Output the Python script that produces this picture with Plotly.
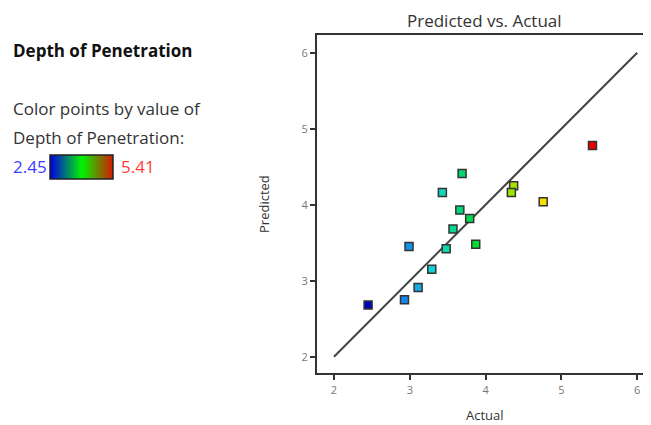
import plotly.graph_objects as go

# ---- data ----
actual = [2.45, 2.93, 3.11, 3.29, 2.99, 3.48, 3.87, 3.57, 3.79, 3.66, 3.43, 3.69, 4.37, 4.34, 4.76, 5.41]
predicted = [2.68, 2.75, 2.91, 3.15, 3.45, 3.42, 3.48, 3.68, 3.82, 3.93, 4.16, 4.41, 4.25, 4.16, 4.04, 4.78]
diag_x = [2, 6]
diag_y = [2, 6]
x_ticks = [2, 3, 4, 5, 6]
y_ticks = [2, 3, 4, 5, 6]
color_min = 2.45
color_max = 5.41

# page has an 8px body margin; figure is placed at (8, 8)
OFF = 8
W, H = 651 - OFF, 425 - OFF
def px(x):
    return (x - OFF) / W
def py(y):
    return 1 - (y - OFF) / H

FONT = "Open Sans"

point_scale = [[0.0, "rgb(0,0,190)"], [0.17, "rgb(20,140,240)"], [0.3, "rgb(20,215,215)"],
               [0.42, "rgb(0,215,110)"], [0.5, "rgb(0,225,30)"], [0.65, "rgb(170,230,0)"],
               [0.78, "rgb(245,225,0)"], [1.0, "rgb(235,0,0)"]]
bar_scale = [[0.0, "rgb(0,0,230)"], [0.5, "rgb(0,245,0)"], [1.0, "rgb(220,20,0)"]]

fig = go.Figure()

fig.add_trace(go.Scatter(x=diag_x, y=diag_y, mode="lines",
                         line=dict(color="#444", width=2), hoverinfo="skip", showlegend=False))
fig.add_trace(go.Scatter(x=actual, y=predicted, mode="markers",
                         marker=dict(symbol="square", size=8, color=actual, colorscale=point_scale,
                                     cmin=color_min, cmax=color_max,
                                     line=dict(color="#333", width=1.5)),
                         showlegend=False))

# legend gradient bar
fig.add_trace(go.Heatmap(z=[[color_min, color_max], [color_min, color_max]], x=[0, 1], y=[0, 1],
                         colorscale=bar_scale, zmin=color_min, zmax=color_max, zsmooth="best",
                         showscale=False, xaxis="x2", yaxis="y2", hoverinfo="skip"))

axis_common = dict(showgrid=False, zeroline=False, showline=True, linecolor="#333", linewidth=2,
                   ticks="outside", ticklen=5, tickwidth=2, tickcolor="#333",
                   tickfont=dict(family=FONT, size=11, color="#777"))

fig.update_layout(
    width=W, height=H,
    margin=dict(l=0, r=0, t=0, b=0),
    paper_bgcolor="white", plot_bgcolor="white",
    xaxis=dict(domain=[px(317), 1], range=[1.776, 6.182], tickvals=x_ticks, mirror=True,
               anchor="y", **axis_common),
    yaxis=dict(domain=[py(373.3), py(35)], range=[1.782, 6.233], tickvals=y_ticks, mirror=False,
               anchor="x", **axis_common),
    xaxis2=dict(domain=[px(50), px(113)], range=[0, 1], visible=False, anchor="y2"),
    yaxis2=dict(domain=[py(179), py(155)], range=[0, 1], visible=False, anchor="x2"),
    shapes=[dict(type="rect", xref="paper", yref="paper", x0=px(50), x1=px(113), y0=py(179), y1=py(155),
                 line=dict(color="#222", width=1.5))],
)

ann = [
    dict(text="Predicted vs. Actual", x=px(485), y=py(20), font=dict(size=17, color="#333")),
    dict(text="Actual", x=px(485), y=py(415), font=dict(size=13, color="#333")),
    dict(text="Predicted", x=px(264), y=py(204), textangle=-90, font=dict(size=13, color="#333")),
    dict(text="<b>Depth of Penetration</b>", x=px(11), y=py(50), xanchor="left", font=dict(size=17, color="#111")),
    dict(text="Color points by value of", x=px(11), y=py(108), xanchor="left", font=dict(size=17, color="#333")),
    dict(text="Depth of Penetration:", x=px(11), y=py(137), xanchor="left", font=dict(size=17, color="#333")),
    dict(text=f"{color_min:.2f}", x=px(11), y=py(166), xanchor="left", font=dict(size=17, color="#3c3cff")),
    dict(text=f"{color_max:.2f}", x=px(119), y=py(166), xanchor="left", font=dict(size=17, color="#ff3c3c")),
]
for a in ann:
    a.setdefault("xanchor", "center")
    a.update(xref="paper", yref="paper", yanchor="middle", showarrow=False)
    a["font"]["family"] = FONT
fig.update_layout(annotations=ann)

fig.write_html("out.html")
